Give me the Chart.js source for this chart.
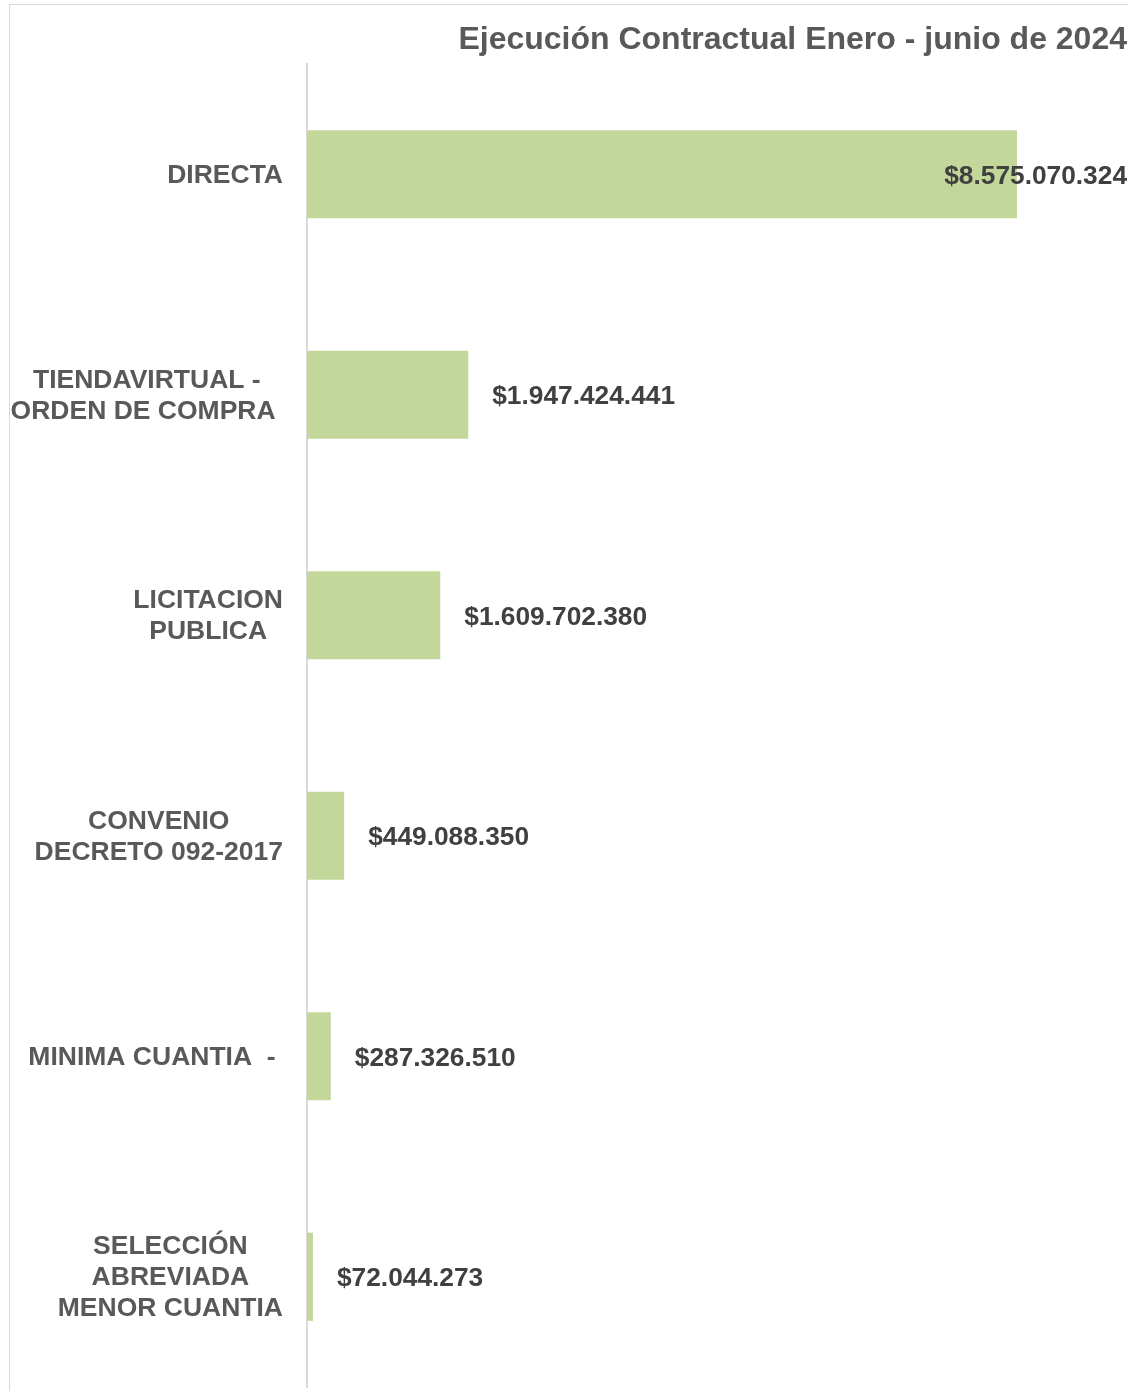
<!DOCTYPE html>
<html>
<head>
<meta charset="utf-8">
<script src="https://cdn.jsdelivr.net/npm/chart.js@4.4.1/dist/chart.umd.min.js"></script>
<style>
  html, body { margin: 0; padding: 0; background: #fff; overflow: hidden; }
  .frame { position: absolute; left: 9px; top: 4px; width: 1200px; height: 1500px;
           border-left: 1px solid #d9d9d9; border-top: 1px solid #d9d9d9; }
  .chartDiv { position: absolute; left: 0; top: 0; width: 1135px; height: 1391px; }
</style>
</head>
<body>
<div class="frame"></div>
<div class="chartDiv"><canvas id="myChart"></canvas></div>
<script>
// data
const categories = [
  ['DIRECTA'],
  ['TIENDAVIRTUAL -', 'ORDEN DE COMPRA '],
  ['LICITACION', 'PUBLICA'],
  ['CONVENIO', 'DECRETO 092-2017'],
  ['MINIMA CUANTIA  - '],
  ['SELECCIÓN', 'ABREVIADA', 'MENOR CUANTIA'],
];
const values = [8575070324, 1947424441, 1609702380, 449088350, 287326510, 72044273];
const xMax = 10000000000;
const chartTitle = 'Ejecución Contractual Enero - junio de 2024';

const FONT = '"Liberation Sans", Arial, sans-serif';

function money(v) {
  return '$' + String(v).replace(/\B(?=(\d{3})+(?!\d))/g, '.');
}

// category labels + value labels, drawn the way Excel places them
const labelPlugin = {
  id: 'labels',
  afterDatasetsDraw(chart) {
    const ctx = chart.ctx;
    const yScale = chart.scales.y;
    const meta = chart.getDatasetMeta(0);
    ctx.save();
    ctx.textBaseline = 'middle';

    // category labels: block right-aligned, lines centered
    ctx.font = 'bold 26.5px ' + FONT;
    ctx.fillStyle = '#595959';
    ctx.textAlign = 'center';
    const lineH = 31;
    categories.forEach((lines, i) => {
      const yc = yScale.getPixelForValue(i) + 1;
      const widest = Math.max(...lines.map(l => ctx.measureText(l).width));
      const xc = 283 - widest / 2;
      lines.forEach((l, j) => {
        ctx.fillText(l, xc, yc + (j - (lines.length - 1) / 2) * lineH);
      });
    });

    // value labels
    ctx.font = 'bold 26.3px ' + FONT;
    ctx.fillStyle = '#404040';
    ctx.textAlign = 'left';
    meta.data.forEach((bar, i) => {
      const txt = money(values[i]);
      const w = ctx.measureText(txt).width;
      let x = bar.x + 24;
      if (x + w > 1127) x = 1127 - w;
      ctx.fillText(txt, x, bar.y + 2);
    });

    // title
    ctx.font = 'bold 32px ' + FONT;
    ctx.fillStyle = '#595959';
    ctx.textAlign = 'right';
    ctx.fillText(chartTitle, 1127, 40);
    ctx.restore();
  }
};

const ctx = document.getElementById('myChart');
const myChart = new Chart(ctx, {
  type: 'bar',
  data: {
    labels: categories,
    datasets: [{
      data: values,
      backgroundColor: '#c4d79b',
      borderWidth: 0,
      categoryPercentage: 1,
      barPercentage: 0.4,
    }],
  },
  options: {
    indexAxis: 'y',
    responsive: true,
    maintainAspectRatio: false,
    animation: false,
    layout: { padding: { left: 307, top: 64, right: 0, bottom: 4 } },
    plugins: { legend: { display: false }, tooltip: { enabled: false } },
    scales: {
      x: { display: false, min: 0, max: xMax },
      y: {
        grid: { display: false, drawTicks: false },
        ticks: { display: false },
        border: { display: true, color: '#d9d9d9', width: 2 },
        afterFit: scale => { scale.width = 0; },
      },
    },
  },
  plugins: [labelPlugin],
});
</script>
</body>
</html>
